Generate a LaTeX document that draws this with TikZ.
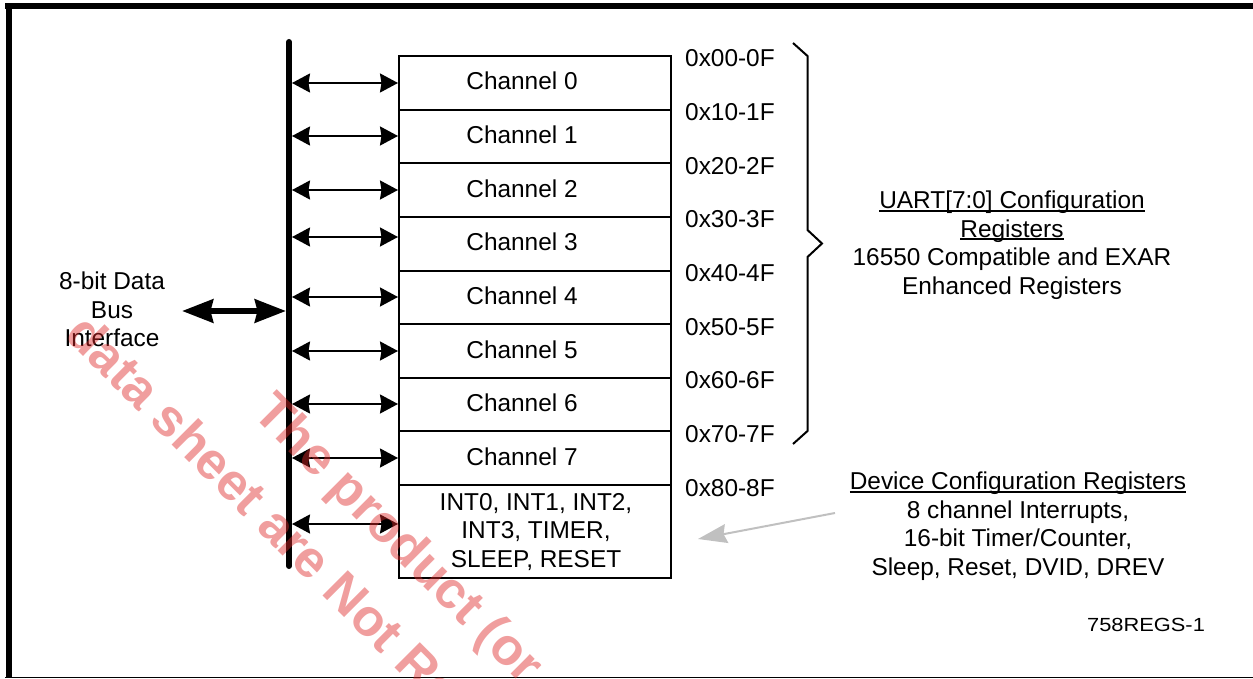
\documentclass[tikz,border=0pt]{standalone}
\usepackage{fontspec}
\setmainfont{Liberation Sans}
\usetikzlibrary{arrows.meta}
\definecolor{arrgray}{RGB}{192,192,192}
\definecolor{wmred}{RGB}{222,40,40}
\newcommand{\stack}[1]{{\setlength{\tabcolsep}{0pt}\begin{tabular}[t]{c}#1\end{tabular}}}
\newcommand{\ulin}[1]{\setbox0=\hbox{#1}\rlap{\rule[-3.5pt]{\wd0}{2pt}}\box0}
\begin{document}
\begin{tikzpicture}[x=1pt,y=-1pt,
  txt/.style={font=\fontsize{24.4}{28.5}\selectfont, inner sep=0pt, text=black},
  regbox/.style={draw=black, line width=2pt, minimum width=271.7pt, inner sep=0pt},
  busarr/.style={line width=2pt, {Stealth[length=18pt,width=19pt,inset=1.5pt]}-{Stealth[length=18pt,width=19pt,inset=1.5pt]}},
  bigarr/.style={line width=6pt, {Stealth[length=31pt,width=23pt,inset=2.5pt]}-{Stealth[length=31pt,width=23pt,inset=2.5pt]}},
  grayarr/.style={draw=arrgray, line width=2pt, -{Stealth[length=29pt,width=19pt,inset=3pt]}},
  wm/.style={font=\fontsize{52}{52}\selectfont\bfseries, text=wmred, text opacity=0.45, inner sep=0pt, rotate=-45, anchor=base west}
]
\useasboundingbox (0,0) rectangle (1253,679);
% frame
\fill[black] (5,3.3) rectangle (1253,9.3);
\fill[black] (5.7,3.3) rectangle (12.3,677.5);
\draw[black, line width=1.5pt] (5,677.3) -- (1253,677.3);

% bus
\coordinate (bustop) at (289,42);
\coordinate (busbot) at (289,566);
\draw[line width=6pt, line cap=round] (bustop) -- (busbot);

% big bus arrow
\coordinate (bigL) at (182,311);
\coordinate (bigR) at (286,311);
\draw[bigarr] (bigL) -- (bigR);
\node[txt, anchor=base] (buslbl) at (112,289.5) {\stack{8-bit Data\\Bus\\Interface}};

% channel registers
\foreach \i/\ay in {0/83,1/136,2/190,3/237,4/297,5/351,6/404,7/458} {
  \node[regbox, minimum height=53.625pt] (ch\i) at (534.85, 56+53.625*\i+26.8125) {};
  \node[txt, anchor=base] (cl\i) at (522, 56+53.625*\i+34) {Channel \i};
  \coordinate (b\i) at (292, \ay);
  \draw[busarr] (b\i) -- (ch\i.west |- b\i);
}
\node[regbox, minimum height=93pt] (intbox) at (534.85, 531.5) {};
\node[txt, anchor=base] (intlbl) at (536, 510) {\stack{INT0, INT1, INT2,\\INT3, TIMER,\\SLEEP, RESET}};
\coordinate (b8) at (292, 524);
\draw[busarr] (b8) -- (intbox.west |- b8);

% address labels
\foreach \i/\t in {0/00-0F,1/10-1F,2/20-2F,3/30-3F,4/40-4F,5/50-5F,6/60-6F,7/70-7F,8/80-8F} {
  \node[txt, anchor=base west] (ad\i) at (685, 56+53.625*\i+11) {0x\t};
}

% brace
\draw[line width=2pt, line join=miter] (793,43) -- (807.5,56) -- (807.5,230) -- (822,243.5) -- (807.5,257) -- (807.5,431) -- (793,444);

\node[txt, anchor=base] (uartlbl) at (1012,208.5) {\stack{\ulin{UART[7:0] Configuration}\\\ulin{Registers}\\16550 Compatible and EXAR\\Enhanced Registers}};

\node[txt, anchor=base] (devlbl) at (1018,489.5) {\stack{\ulin{Device Configuration Registers}\\8 channel Interrupts,\\16-bit Timer/Counter,\\Sleep, Reset, DVID, DREV}};

\coordinate (gs) at (835,513);
\coordinate (gt) at (698,539);
\draw[grayarr] (gs) -- (gt);

\node[inner sep=0pt, anchor=base, font=\fontsize{19}{22}\selectfont] (figid) at (1146,631) {\scalebox{1.15}[1]{758REGS-1}};

% watermark
\begin{scope}
\clip (0,0) rectangle (1253,679);
\node[wm] (wmA) at (251,414) {The product (or};
\node[wm] (wmB) at (63,336) {data sheet are Not Re};
\end{scope}
\end{tikzpicture}
\end{document}
